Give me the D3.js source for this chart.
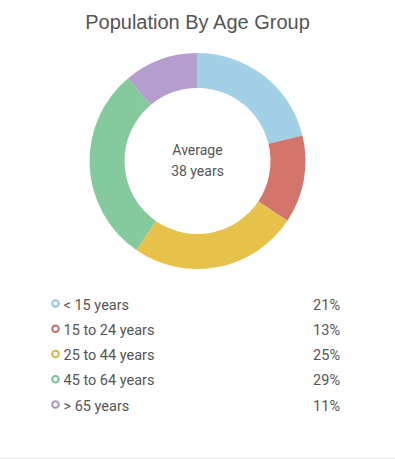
<!DOCTYPE html>
<html>
<head>
<meta charset="utf-8">
<script src="https://cdn.jsdelivr.net/npm/d3@7"></script>
<style>
  body { margin: 0; background: #fff; }
  svg { display: block; font-family: Roboto, sans-serif; }
</style>
</head>
<body>
<div class="chart"></div>
<script>
// chart data
let groups = ["< 15 years", "15 to 24 years", "25 to 44 years", "45 to 64 years", "> 65 years"];
let shares = [21, 13, 25, 29, 11];
let colors = ["#a9d9f0", "#dc7a70", "#f1cb4e", "#8bd3a3", "#bba5d6"];
let title = "Population By Age Group";
let centerLines = ["Average", "38 years"];

let svgWidth = 395;
let svgHeight = 459;
let cx = 197.5, cy = 161;
let outerR = 108, innerR = 73;

var svg = d3.select(".chart")
  .append("svg")
  .attr("width", svgWidth)
  .attr("height", svgHeight);

// radial gradients so each band is lighter in the middle
let defs = svg.append("defs");
colors.forEach(function(c, i) {
  let g = defs.append("radialGradient")
    .attr("id", "grad" + i)
    .attr("gradientUnits", "userSpaceOnUse")
    .attr("cx", cx).attr("cy", cy).attr("r", outerR)
    .attr("fx", cx).attr("fy", cy);
  let dark = d3.color(c).darker(0.12);
  let light = d3.interpolateRgb(c, "#ffffff")(0.28);
  g.append("stop").attr("offset", innerR / outerR).attr("stop-color", dark);
  g.append("stop").attr("offset", (innerR + (outerR - innerR) * 0.55) / outerR).attr("stop-color", light);
  g.append("stop").attr("offset", 1).attr("stop-color", dark);
});

// title
svg.append("text")
  .attr("x", svgWidth / 2)
  .attr("y", 29)
  .attr("text-anchor", "middle")
  .style("font-family", "'Liberation Sans', Arial, sans-serif")
  .style("font-size", "20px")
  .attr("fill", "#555")
  .text(title);

// donut
let pie = d3.pie().sort(null).value(d => d);
let arc = d3.arc().innerRadius(innerR).outerRadius(outerR);

let chartGroup = svg.append("g")
  .attr("transform", `translate(${cx}, ${cy})`);

chartGroup.selectAll("path")
  .data(pie(shares))
  .enter()
  .append("path")
  .attr("d", arc)
  .attr("fill", (d, i) => `url(#grad${i})`);

chartGroup.selectAll("text.center")
  .data(centerLines)
  .enter()
  .append("text")
  .attr("class", "center")
  .attr("text-anchor", "middle")
  .attr("y", (d, i) => -6 + i * 21)
  .style("font-size", "14px")
  .attr("fill", "#555")
  .text(d => d);

// legend
let rowY = d3.scalePoint()
  .domain(groups)
  .range([304.5, 405.5]);

let legend = svg.append("g");
let rows = legend.selectAll("g")
  .data(groups)
  .enter()
  .append("g")
  .attr("transform", d => `translate(0, ${rowY(d)})`);

rows.append("circle")
  .attr("cx", 55.5)
  .attr("cy", -1)
  .attr("r", 3.3)
  .attr("fill", "#fff")
  .attr("stroke", (d, i) => d3.color(colors[i]).darker(0.3))
  .attr("stroke-width", 2);

rows.append("text")
  .attr("x", 63.5)
  .attr("y", 5)
  .style("font-size", "14.5px")
  .attr("fill", "#555")
  .text(d => d);

rows.append("text")
  .attr("x", 340)
  .attr("y", 5)
  .attr("text-anchor", "end")
  .style("font-size", "14.5px")
  .attr("fill", "#555")
  .text((d, i) => shares[i] + "%");

// bottom rule
svg.append("line")
  .attr("x1", 0).attr("x2", svgWidth)
  .attr("y1", 458.5).attr("y2", 458.5)
  .attr("stroke", "#e8e8e8");
</script>
</body>
</html>
